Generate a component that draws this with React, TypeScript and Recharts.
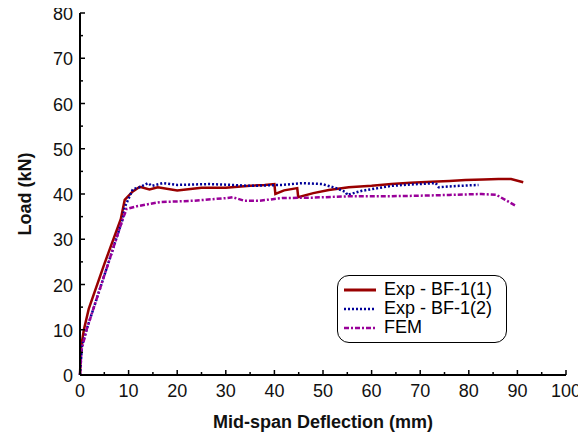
import React from 'react'
import { LineChart, Line, XAxis, YAxis } from 'recharts'

// Exp - BF-1(1): mid-span deflection (mm) vs load (kN)
const exp1X = [0, 0.2, 0.8, 1.8, 5, 8.4, 9.2, 10.8, 12.3, 14.3, 16, 20, 25, 30, 35, 38, 40, 40.2, 42, 44.7, 44.9, 48, 51.2, 55.3, 60, 64.1, 68, 72.3, 76, 79.3, 83, 86.1, 88.7, 91.2]
const exp1Y = [0, 6, 10, 14.6, 24.5, 34.5, 38.7, 40.5, 41.6, 41, 41.5, 40.8, 41.4, 41.4, 41.8, 42, 42.2, 40, 40.8, 41.3, 39.3, 40.2, 40.9, 41.5, 41.8, 42.2, 42.5, 42.7, 42.9, 43.1, 43.2, 43.3, 43.3, 42.6]

// Exp - BF-1(2)
const exp2X = [0, 0.4, 1.4, 5, 8.8, 9.2, 10.9, 12.3, 14, 14.8, 17, 20, 26.6, 31.4, 35, 41.6, 45.7, 49.8, 52.7, 54.7, 55, 58, 64.1, 68, 73.2, 73.8, 78, 82]
const exp2Y = [0, 6.4, 10.2, 22, 34.5, 37.1, 41.1, 41.5, 42.4, 41.8, 42.4, 42, 42.2, 42, 41.8, 42, 42.4, 42.2, 41.3, 40.4, 39.8, 40.7, 41.8, 42.1, 42.4, 41.5, 41.8, 42]

// FEM
const femX = [0, 0.3, 1.4, 5, 8.8, 9.6, 11.7, 16.4, 23.2, 30.1, 31.4, 33.8, 36.8, 41.6, 48, 55.3, 62, 69.1, 76, 82.6, 85.7, 87.5, 89.8]
const femY = [0, 5.5, 10.2, 22, 34.5, 36.7, 37.3, 38.2, 38.5, 39.1, 39.3, 38.5, 38.5, 39.1, 39.2, 39.5, 39.5, 39.6, 39.8, 40, 39.8, 38.7, 37.3]

const xTicks = [0, 5, 10, 15, 20, 25, 30, 35, 40, 45, 50, 55, 60, 65, 70, 75, 80, 85, 90, 95, 100]
const yTicks = [0, 5, 10, 15, 20, 25, 30, 35, 40, 45, 50, 55, 60, 65, 70, 75, 80]

const seriesNames = ['Exp - BF-1(1)', 'Exp - BF-1(2)', 'FEM']
const seriesColors = ['#990000', '#000099', '#990099']
const seriesDash = ['', '2 2', '5 2 2 2']

const toPoints = (xs: number[], ys: number[]) => xs.map((x, i) => ({ x, y: ys[i] }))

const font = 'Arial, "Liberation Sans", sans-serif'

const XTick = (props: any) => {
  const { x, y, payload } = props
  const major = payload.value % 10 === 0
  return (
    <g>
      <line x1={x} x2={x} y1={y} y2={y - (major ? 5 : 3)} stroke="#000" strokeWidth={1.5} />
      {major && (
        <text x={x} y={y + 22} textAnchor="middle" fontSize={18} fontFamily={font} fill="#111">
          {payload.value}
        </text>
      )}
    </g>
  )
}

const YTick = (props: any) => {
  const { x, y, payload } = props
  const major = payload.value % 10 === 0
  return (
    <g>
      <line x1={x} x2={x + (major ? 5 : 3)} y1={y} y2={y} stroke="#000" strokeWidth={1.5} />
      {major && (
        <text x={x - 7} y={y + 7} textAnchor="end" fontSize={18} fontFamily={font} fill="#111">
          {payload.value}
        </text>
      )}
    </g>
  )
}

const LegendBox = () => (
  <div
    style={{
      position: 'absolute',
      left: 329,
      top: 272,
      border: '1.5px solid #000',
      borderRadius: 12,
      padding: '4px 8px 5px 6px',
      fontFamily: font,
      fontSize: 18,
      lineHeight: '19px',
      background: '#fff',
      width: 154,
    }}
  >
    {seriesNames.map((n, i) => (
      <div key={n} style={{ display: 'flex', alignItems: 'center', height: 19 }}>
        <svg width={40} height={19}>
          <line
            x1={0}
            x2={32}
            y1={10}
            y2={10}
            stroke={seriesColors[i]}
            strokeWidth={i === 0 ? 3 : 2.5}
            strokeDasharray={seriesDash[i]}
          />
        </svg>
        <span>{n}</span>
      </div>
    ))}
  </div>
)

export default function App() {
  return (
    <div style={{ position: 'relative', width: 578, height: 435, marginTop: -5 }}>
      <LineChart width={578} height={435} margin={{ top: 10, right: 20, bottom: 0, left: 0 }}>
        <XAxis
          type="number"
          dataKey="x"
          domain={[0, 100]}
          ticks={xTicks}
          interval={0}
          tickSize={0}
          tickMargin={0}
          tickLine={false}
          tick={<XTick />}
          height={63}
          axisLine={{ stroke: '#000', strokeWidth: 2 }}
          allowDuplicatedCategory={false}
          label={{
            value: 'Mid-span Deflection (mm)',
            position: 'insideBottom',
            offset: 10,
            style: { fontFamily: font, fontSize: 18, fontWeight: 'bold', fill: '#111' },
          }}
        />
        <YAxis
          type="number"
          dataKey="y"
          domain={[0, 80]}
          ticks={yTicks}
          interval={0}
          tickSize={0}
          tickMargin={0}
          tickLine={false}
          tick={<YTick />}
          width={72}
          axisLine={{ stroke: '#000', strokeWidth: 2 }}
          label={{
            value: 'Load (kN)',
            angle: -90,
            position: 'insideLeft',
            offset: 17,
            style: { fontFamily: font, fontSize: 18, fontWeight: 'bold', fill: '#111', textAnchor: 'middle' },
          }}
        />
        <Line
          data={toPoints(exp1X, exp1Y)}
          dataKey="y"
          name={seriesNames[0]}
          stroke={seriesColors[0]}
          strokeWidth={2.5}
          dot={false}
          isAnimationActive={false}
        />
        <Line
          data={toPoints(exp2X, exp2Y)}
          dataKey="y"
          name={seriesNames[1]}
          stroke={seriesColors[1]}
          strokeWidth={2.5}
          strokeDasharray={seriesDash[1]}
          dot={false}
          isAnimationActive={false}
        />
        <Line
          data={toPoints(femX, femY)}
          dataKey="y"
          name={seriesNames[2]}
          stroke={seriesColors[2]}
          strokeWidth={2.5}
          strokeDasharray={seriesDash[2]}
          dot={false}
          isAnimationActive={false}
        />
      </LineChart>
      <LegendBox />
    </div>
  )
}
